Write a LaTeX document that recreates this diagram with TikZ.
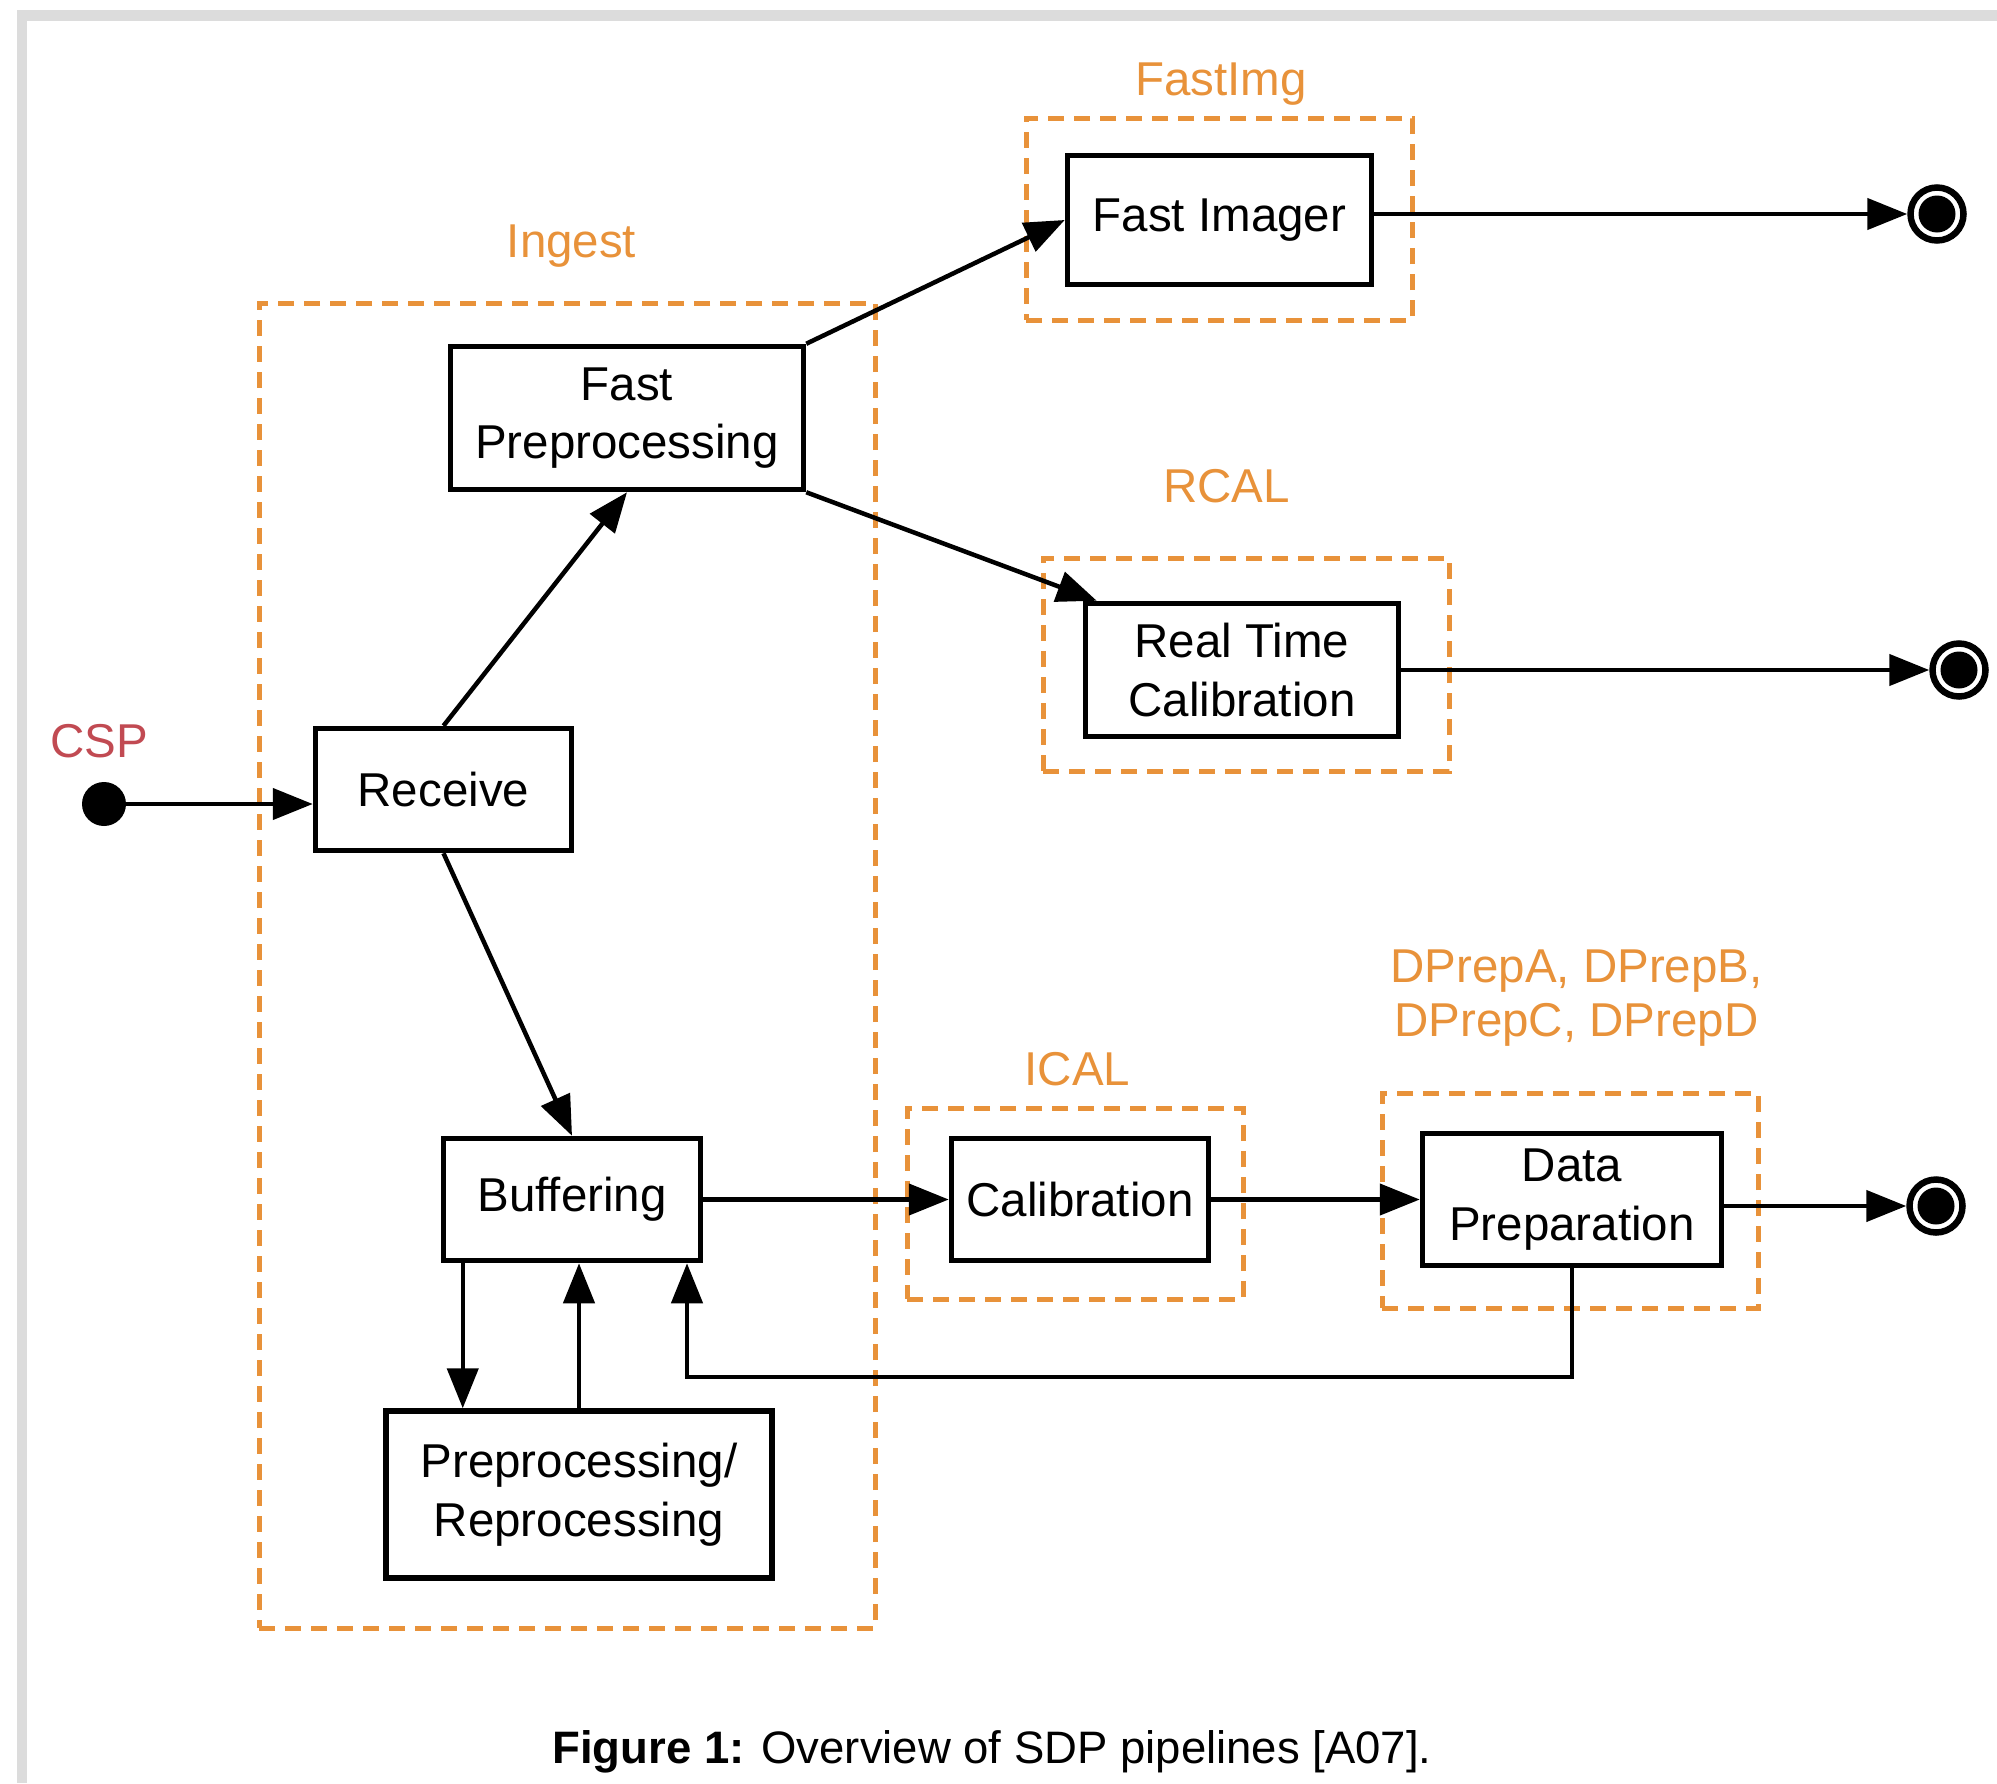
\documentclass[tikz,border=0pt]{standalone}
\usepackage{fontspec}
\setmainfont{Liberation Sans}
\usetikzlibrary{arrows.meta}
\definecolor{pipeorange}{RGB}{232,146,58}
\definecolor{cspred}{RGB}{193,74,82}
\definecolor{framegrey}{RGB}{220,220,220}
\newcommand{\pipefont}{\fontsize{47.5}{58.6}\selectfont}

\begin{document}
\begin{tikzpicture}[x=1pt,y=-1pt,
		stage/.style={draw,line width=5.5pt,inner sep=0pt,align=center,font=\pipefont},
		group/.style={draw=pipeorange,line width=5pt,dash pattern=on 16pt off 10pt,inner sep=0pt},
		grouplabel/.style={anchor=base,text=pipeorange,font=\pipefont,align=center},
		arr/.style={-{Triangle[length=40pt,width=31pt]},line width=4.5pt},
		startdot/.style={circle,fill=black,minimum size=44pt,inner sep=0pt},
		enddot/.style={circle,draw,line width=6.5pt,minimum size=53pt,inner sep=0pt,
			path picture={\fill (path picture bounding box.center) circle (18.5pt);}}]
	
	\useasboundingbox (0,0) rectangle (1997,1783);
	\fill[framegrey] (17,10) rectangle (1997,21);
	\fill[framegrey] (17,10) rectangle (27,1783);
	
	\node[group,minimum width=616pt,minimum height=1325pt] (ingest) at (567,965.5) {};
	\node[group,minimum width=386pt,minimum height=202pt] (fastimg) at (1219,219) {};
	\node[group,minimum width=406pt,minimum height=213pt] (rcal) at (1246,664.5) {};
	\node[group,minimum width=336pt,minimum height=191pt] (ical) at (1075,1203.5) {};
	\node[group,minimum width=376pt,minimum height=215pt] (dprep) at (1570,1200.5) {};
	
	\node[grouplabel] (ingestlbl) at (571.5,257) {Ingest};
	\node[grouplabel] (fastimglbl) at (1221,95) {FastImg};
	\node[grouplabel] (rcallbl) at (1226.5,502) {RCAL};
	\node[grouplabel] (icallbl) at (1077.5,1085) {ICAL};
	\node[grouplabel] (dpreplbl) at (1576.5,982) {DPrepA, DPrepB,};
	\node[grouplabel] (dpreplbl2) at (1576.5,1036) {DPrepC, DPrepD};
	\node[anchor=base,text=cspred,font=\pipefont] (csplbl) at (99.5,757) {CSP};
	
	\node[stage,minimum width=304pt,minimum height=129pt] (FI) at (1219.5,220) {Fast Imager};
	\node[stage,minimum width=353pt,minimum height=143pt] (FP) at (627,418) {Fast\\Preprocessing};
	\node[stage,minimum width=256pt,minimum height=122pt] (RC) at (443.5,789.5) {Receive};
	\node[stage,minimum width=257pt,minimum height=122pt] (BF) at (572,1199.5) {Buffering};
	\node[stage,minimum width=386pt,minimum height=167pt] (PR) at (579,1494.5) {Preprocessing/\\Reprocessing};
	\node[stage,minimum width=313pt,minimum height=133pt] (RT) at (1242,670) {Real Time\\Calibration};
	\node[stage,minimum width=257pt,minimum height=122pt] (CA) at (1080,1199.5) {Calibration};
	\node[stage,minimum width=299pt,minimum height=132pt] (DP) at (1572,1199.5) {Data\\Preparation};
	
	\node[startdot] (csp) at (104,804) {};
	\node[enddot] (end1) at (1937,214) {};
	\node[enddot] (end2) at (1959,670) {};
	\node[enddot] (end3) at (1936,1206) {};
	\coordinate (fb) at (687,1377);
	
	\draw[arr] (csp) -- (RC.west |- csp);
	\draw[arr] (RC.north) -- (FP.south);
	\draw[arr] (RC.south) -- (BF.north);
	\draw[arr] (FP.north east) -- (FI.west);
	\draw[arr] (FP.south east) -- ([xshift=14pt]RT.north west);
	\draw[arr] (FI.east |- end1) -- (end1);
	\draw[arr] (RT.east) -- (end2);
	\draw[arr] (BF.east) -- (CA.west);
	\draw[arr] (CA.east) -- (DP.west);
	\draw[arr] (DP.east |- end3) -- (end3);
	\draw[arr] ([xshift=22pt]BF.south west) -- ([xshift=22pt]BF.south west |- PR.north);
	\draw[arr] (PR.north) -- (PR.north |- BF.south);
	\draw[arr] (DP.south) |- (fb) -- (fb |- BF.south);
	
	\node[anchor=base,font=\fontsize{45.5}{54}\selectfont] (caption) at (992,1763) {\textbf{Figure 1:} Overview of SDP pipelines [A07].};
	
\end{tikzpicture}
\end{document}
